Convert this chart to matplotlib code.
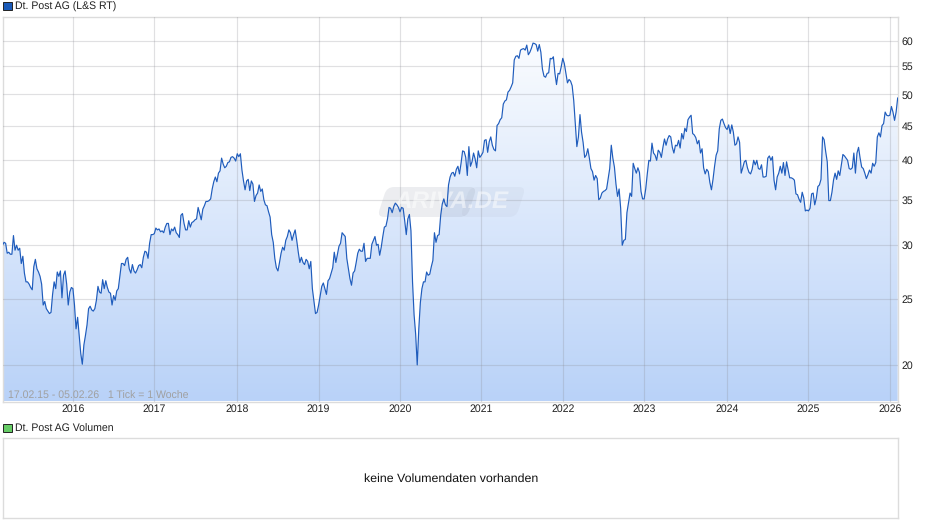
import numpy as np
import matplotlib
matplotlib.use('Agg')
import matplotlib.pyplot as plt
from matplotlib.colors import LinearSegmentedColormap
from matplotlib.patches import Polygon, Rectangle, FancyBboxPatch
from matplotlib.transforms import Affine2D

plt.rcParams['font.family'] = ['Liberation Sans', 'DejaVu Sans']
plt.rcParams['text.hinting'] = 'no_hinting'

# weekly closes
close_2015 = [30.0, 30.3, 30.2, 29.2, 29.3, 29.1, 29.1, 31.0, 29.5, 30.0, 29.5, 29.7, 28.2, 28.9, 27.3,
              26.5, 26.5, 26.3, 26.0, 25.8, 27.9, 28.6, 27.7, 27.4, 27.0, 26.3, 24.5, 24.8, 24.2, 24.0,
              23.8, 23.9, 25.4, 26.5, 25.9, 27.4, 27.0, 27.5, 25.1, 27.1, 27.5, 26.3, 24.5, 25.6, 26.0, 25.9]
close_2016 = [24.5, 22.6, 23.5, 22.1, 20.8, 20.05, 21.4, 22.1, 22.9, 24.2, 24.4, 24.1, 24.0, 24.2, 24.9,
              26.1, 25.6, 25.5, 26.7, 25.9, 26.6, 26.0, 25.6, 25.5, 24.5, 25.3, 24.9, 25.7, 25.9, 27.0,
              28.2, 28.2, 28.0, 28.6, 28.8, 27.7, 27.3, 28.1, 27.5, 27.3, 27.6, 28.0, 28.1, 27.8, 28.8,
              29.4, 29.3, 28.7, 30.2, 31.1, 31.1]
close_2017 = [31.2, 31.8, 31.6, 31.7, 31.4, 31.5, 31.3, 31.9, 32.3, 32.3, 31.1, 31.7, 31.5, 31.9, 31.3,
              31.1, 30.8, 33.2, 33.4, 32.3, 31.6, 31.6, 32.6, 31.9, 32.4, 32.5, 32.7, 32.8, 34.1, 33.4,
              32.7, 33.9, 34.3, 34.8, 34.8, 34.9, 35.1, 36.3, 37.2, 37.8, 37.2, 38.3, 38.6, 40.3, 39.5,
              39.0, 39.2, 39.7, 39.8, 40.4, 40.5, 40.3, 39.9]
close_2018 = [40.9, 40.5, 40.9, 38.7, 37.3, 36.2, 37.3, 37.5, 36.1, 37.3, 36.9, 34.8, 35.5, 35.8, 36.8,
              36.0, 36.3, 35.0, 34.4, 34.3, 33.6, 33.0, 31.1, 30.3, 28.7, 27.8, 27.5, 28.3, 29.2, 29.8,
              29.5, 30.5, 30.9, 31.6, 31.3, 30.5, 31.1, 31.6, 30.5, 29.3, 28.3, 28.8, 28.3, 28.1, 28.6,
              28.4, 27.7, 28.4, 25.9, 24.8, 23.8, 23.9, 24.5]
close_2019 = [25.3, 26.1, 26.4, 25.9, 25.4, 26.6, 26.8, 27.3, 27.8, 29.3, 28.3, 29.1, 29.9, 30.2, 31.3,
              31.1, 30.9, 28.7, 27.7, 26.8, 26.2, 27.3, 27.5, 28.3, 29.2, 29.6, 29.4, 29.4, 30.2, 28.4,
              28.7, 28.7, 28.7, 30.1, 30.5, 30.9, 30.0, 30.1, 29.0, 29.8, 30.9, 31.9, 32.0, 32.8, 34.1,
              34.0, 33.5, 34.2, 34.6, 34.4, 34.1, 33.6]
close_2020 = [34.1, 34.0, 32.6, 31.1, 32.8, 33.3, 31.5, 26.5, 23.7, 22.2, 20.0, 22.6, 24.7, 25.9, 26.5,
              26.5, 27.4, 27.1, 27.2, 27.9, 28.5, 31.3, 30.3, 31.0, 31.1, 33.2, 34.5, 35.1, 34.4, 34.2,
              36.8, 37.8, 38.3, 38.4, 37.9, 38.8, 39.2, 38.2, 39.6, 41.3, 41.2, 40.4, 38.0, 41.9, 39.2,
              39.8, 41.0, 40.2, 39.0, 41.3, 40.4, 40.7]
close_2021 = [41.1, 42.8, 42.9, 41.1, 42.6, 43.3, 42.1, 41.5, 41.3, 45.0, 45.3, 45.9, 46.2, 48.4, 48.9,
              49.1, 50.4, 50.7, 51.3, 52.0, 56.2, 56.9, 57.0, 56.5, 58.1, 58.3, 58.4, 58.1, 59.1, 57.2,
              57.7, 58.5, 59.5, 59.4, 59.2, 57.9, 59.2, 57.7, 54.5, 53.2, 53.0, 53.7, 53.8, 56.5, 56.4,
              56.8, 53.7, 51.7, 53.7, 53.6, 54.9, 56.5]
close_2022 = [55.5, 53.7, 52.0, 52.6, 52.3, 51.5, 49.0, 45.3, 41.9, 43.3, 46.7, 44.0, 42.5, 40.4, 40.7,
              41.6, 40.3, 38.9, 38.5, 37.4, 38.0, 37.6, 35.0, 35.2, 35.8, 36.0, 36.1, 36.3, 37.6, 38.9,
              42.1, 40.3, 39.1, 36.9, 35.4, 36.3, 34.0, 30.0, 30.5, 30.6, 33.5, 34.6, 35.8, 35.4, 39.6,
              38.9, 38.3, 39.0, 38.4, 36.0, 35.1, 35.1]
close_2023 = [36.3, 38.2, 40.0, 39.9, 42.4, 41.0, 40.7, 40.0, 41.4, 41.1, 40.4, 41.8, 43.0, 42.1, 43.0,
              43.5, 43.3, 41.8, 41.0, 42.1, 42.0, 42.8, 41.7, 43.8, 43.0, 44.6, 44.1, 45.9, 46.3, 46.6,
              43.8, 43.6, 43.2, 42.3, 42.8, 41.0, 41.6, 39.0, 38.2, 38.8, 38.5, 37.1, 36.2, 37.5, 39.2,
              40.7, 41.3, 44.5, 45.8, 46.0, 45.3, 44.7, 44.4]
close_2024 = [45.1, 43.8, 45.1, 44.0, 42.1, 42.3, 43.3, 42.5, 38.3, 39.0, 39.8, 40.0, 39.0, 38.4, 38.2,
              38.8, 40.0, 39.4, 40.0, 38.9, 38.8, 39.4, 37.8, 37.8, 37.9, 40.3, 40.6, 40.0, 40.5, 37.4,
              36.2, 37.8, 38.3, 39.2, 38.3, 39.7, 38.0, 39.8, 38.7, 37.7, 37.7, 37.6, 37.4, 35.7, 35.6,
              35.05, 34.7, 35.9, 35.2, 33.7, 33.8]
close_2025 = [33.7, 34.0, 35.7, 35.8, 34.4, 35.2, 36.6, 36.8, 37.5, 43.3, 42.9, 41.2, 39.8, 34.9, 34.9,
              35.9, 37.4, 38.3, 37.5, 38.6, 38.0, 39.4, 40.8, 40.6, 40.3, 40.0, 38.9, 38.8, 39.0, 41.0,
              38.3, 41.0, 41.8, 40.3, 39.1, 38.9, 38.3, 37.6, 38.1, 38.7, 38.3, 39.6, 39.2, 39.7, 43.3,
              43.9, 43.3, 45.0, 45.3, 47.1, 46.6, 46.5]
close_2026 = [46.6, 48.0, 47.1, 45.8, 47.1, 49.4]

year_labels = ['2016', '2017', '2018', '2019', '2020', '2021', '2022', '2023', '2024', '2025', '2026']
year_weeks = [45, 97, 150, 202, 254, 306, 358, 410, 463, 515, 567]
price_ticks = [20, 25, 30, 35, 40, 45, 50, 55, 60]

W, H = 940, 526
GRID = '#dcdcdc'
TEXT_SIZE = 7.6


def px_axes(fig, left, top, right, bottom):
    return fig.add_axes([left / W, 1 - bottom / H, (right - left) / W, (bottom - top) / H])


def px(x, y):
    return x / W, 1 - y / H


close = np.array(close_2015 + close_2016 + close_2017 + close_2018 + close_2019 + close_2020
                 + close_2021 + close_2022 + close_2023 + close_2024 + close_2025 + close_2026)
weeks = np.arange(len(close))

fig = plt.figure(figsize=(W / 100, H / 100), dpi=100)
ax = px_axes(fig, 2.5, 17, 898.3, 401.5)
ax.set_yscale('log')

# gradient under the line
cmap = LinearSegmentedColormap.from_list('area', ['#ffffff', '#b9d2f8'])
grad = np.linspace(0, 1, 256).reshape(-1, 1)
img = ax.imshow(grad, cmap=cmap, aspect='auto', extent=[0, 1, 0, 1], origin='upper',
                transform=ax.transAxes, zorder=1)
y_floor = 17.0
poly = Polygon(np.vstack([[weeks[0], y_floor], np.column_stack([weeks, close]), [weeks[-1], y_floor]]),
               closed=True, transform=ax.transData, facecolor='none', edgecolor='none')
ax.add_patch(poly)
img.set_clip_path(poly)

ax.set_xlim(0, 572.4)
ax.set_ylim(17.67, 65.0)

ax.set_xticks(year_weeks)
ax.set_xticklabels(year_labels)
ax.set_yticks(price_ticks)
ax.set_yticklabels([str(v) for v in price_ticks])
ax.minorticks_off()
ax.tick_params(axis='both', length=0, labelsize=TEXT_SIZE, colors='#222222')
ax.tick_params(axis='y', pad=2.5, right=True, labelright=True, left=False, labelleft=False)
ax.tick_params(axis='x', pad=1.8)
ax.grid(True, color='#8a8a92', alpha=0.26, linewidth=0.85, zorder=2)
ax.set_axisbelow(False)
for s in ax.spines.values():
    s.set_color(GRID)
    s.set_linewidth(1.0)
    s.set_zorder(1.5)

ax.plot(weeks, close, color='#1f5cbc', linewidth=0.85, zorder=4)

# ARIVA.DE watermark, slanted box in figure pixels (y up)
mark_cx, mark_cy = 451, H - 202
slant = (Affine2D().translate(-mark_cx, -mark_cy).skew_deg(18, 0).translate(mark_cx, mark_cy)
         .scale(1 / W, 1 / H) + fig.transFigure)
mark_l = FancyBboxPatch((382, H - 217), 90, 30, boxstyle='round,pad=0,rounding_size=7', transform=slant,
                        facecolor='#9098a8', edgecolor='none', alpha=0.17, zorder=3, clip_on=False)
mark_r = FancyBboxPatch((465, H - 217), 56, 30, boxstyle='round,pad=0,rounding_size=7', transform=slant,
                        facecolor='#9098a8', edgecolor='none', alpha=0.08, zorder=3, clip_on=False)
ax.add_patch(mark_l)
ax.add_patch(mark_r)
fx, fy = px(452, 202)
ax.text(fx, fy, 'ARIVA.DE', transform=fig.transFigure, fontsize=17.5, fontstyle='italic', fontweight='bold',
        color='white', alpha=0.5, ha='center', va='center', zorder=3.5)

# period note inside the plot
fx, fy = px(8, 396)
fig.text(fx, fy, '17.02.15 - 05.02.26   1 Tick = 1 Woche', fontsize=TEXT_SIZE, color='#a0a0a0',
         ha='left', va='center', zorder=6)

# titles with colour squares
fig.add_artist(Rectangle(px(3, 10), 9 / W, 8 / H, transform=fig.transFigure,
                         facecolor='#1a5ab8', edgecolor='#222222', linewidth=0.7))
fx, fy = px(15, 6.5)
fig.text(fx, fy, 'Dt. Post AG (L&S RT)', fontsize=TEXT_SIZE, color='#222222', ha='left', va='center')
fig.add_artist(Rectangle(px(3, 432), 9 / W, 8 / H, transform=fig.transFigure,
                         facecolor='#66cc66', edgecolor='#222222', linewidth=0.7))
fx, fy = px(15, 429)
fig.text(fx, fy, 'Dt. Post AG Volumen', fontsize=TEXT_SIZE, color='#222222', ha='left', va='center')

# empty volume panel
ax_vol = px_axes(fig, 2.5, 437.5, 898.3, 517.5)
ax_vol.set_xticks([])
ax_vol.set_yticks([])
for s in ax_vol.spines.values():
    s.set_color(GRID)
    s.set_linewidth(1.0)
fx, fy = px(451, 478.5)
fig.text(fx, fy, 'keine Volumendaten vorhanden', fontsize=8.9, color='#111111', ha='center', va='center')

fig.savefig('out.png', dpi=100)
